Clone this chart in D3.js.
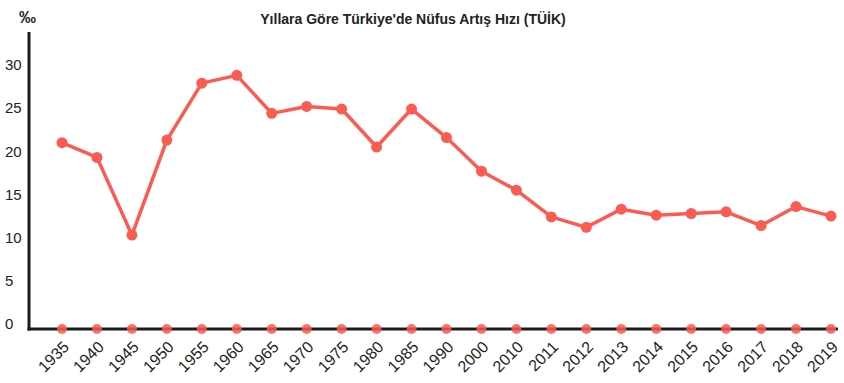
<!DOCTYPE html>
<html>
<head>
<meta charset="utf-8">
<script src="https://cdn.jsdelivr.net/npm/d3@7"></script>
<style>
  body { margin: 0; background: #fff; }
  svg text { font-family: "Liberation Sans", Arial, Helvetica, sans-serif; fill: #222; }
</style>
</head>
<body>
<div id="chart"></div>
<script>
// Nüfus artış hızı (binde) per year
const years = ["1935","1940","1945","1950","1955","1960","1965","1970","1975","1980","1985","1990",
               "2000","2010","2011","2012","2013","2014","2015","2016","2017","2018","2019"];
const rates = [21.0, 19.3, 10.3, 21.3, 27.9, 28.8, 24.4, 25.2, 24.9, 20.5, 24.9, 21.6,
               17.7, 15.5, 12.4, 11.2, 13.3, 12.6, 12.8, 13.0, 11.4, 13.6, 12.5];
const baseline = years.map(() => 0);                              // row of dots sitting on the x axis
const yTicks = [0, 5, 10, 15, 20, 25, 30];
const title = "Yıllara Göre Türkiye'de Nüfus Artış Hızı (TÜİK)";
const unitLabel = "‰";

function drawChart(containerId)
{
  const width = 844, height = 383;
  const lineColor = "#fa5c52";

  const svg = d3.select("#" + containerId)
                .append("svg")
                .attr("width", width)
                .attr("height", height);

  // --- Scales ---
  const x = d3.scalePoint()
              .domain(years)
              .range([62, 831]);

  const y = d3.scaleLinear()
              .domain([0, 30])
              .range([324, 65]);

  const axisY = y(0) + 5;                                         // axis line sits a bit under the 0 label

  // --- Title and unit ---
  svg.append("text")
     .attr("x", 413).attr("y", 24)
     .attr("text-anchor", "middle")
     .style("font-size", "14px")
     .style("font-weight", "bold")
     .text(title);

  svg.append("text")
     .attr("x", 19).attr("y", 23)
     .style("font-size", "17px")
     .style("font-weight", "bold")
     .text(unitLabel);

  // --- Y tick labels (left aligned, no tick marks) ---
  svg.append("g")
     .selectAll("text")
     .data(yTicks)
     .enter()
     .append("text")
     .attr("x", 5)
     .attr("y", d => y(d))
     .attr("dy", "0.35em")
     .style("font-size", "15px")
     .text(d => d);

  // --- Axis lines ---
  svg.append("line")
     .attr("x1", 29).attr("x2", 29)
     .attr("y1", 32).attr("y2", axisY + 1.5)
     .attr("stroke", "#1c1c1c").attr("stroke-width", 3);

  svg.append("line")
     .attr("x1", 27.5).attr("x2", 838)
     .attr("y1", axisY).attr("y2", axisY)
     .attr("stroke", "#1c1c1c").attr("stroke-width", 3);

  // --- X tick labels, rotated ---
  svg.append("g")
     .selectAll("text")
     .data(years)
     .enter()
     .append("text")
     .attr("transform", d => "translate(" + (x(d) + 4) + "," + (axisY + 15) + ") rotate(-45)")
     .attr("text-anchor", "end")
     .attr("dy", "0.35em")
     .style("font-size", "16px")
     .text(d => d);

  // --- Baseline dots ---
  svg.append("g")
     .selectAll("circle")
     .data(baseline)
     .enter()
     .append("circle")
     .attr("cx", (d, i) => x(years[i]))
     .attr("cy", axisY)
     .attr("r", 5)
     .attr("fill", lineColor)
     .attr("opacity", 0.85);

  // --- Rate line ---
  const line = d3.line()
                 .x((d, i) => x(years[i]))
                 .y(d => y(d));

  svg.append("path")
     .datum(rates)
     .attr("d", line)
     .attr("fill", "none")
     .attr("stroke", lineColor)
     .attr("stroke-width", 3.5)
     .attr("stroke-linejoin", "round");

  svg.append("g")
     .selectAll("circle")
     .data(rates)
     .enter()
     .append("circle")
     .attr("cx", (d, i) => x(years[i]))
     .attr("cy", d => y(d))
     .attr("r", 5.5)
     .attr("fill", lineColor);
}

drawChart("chart");
</script>
</body>
</html>
